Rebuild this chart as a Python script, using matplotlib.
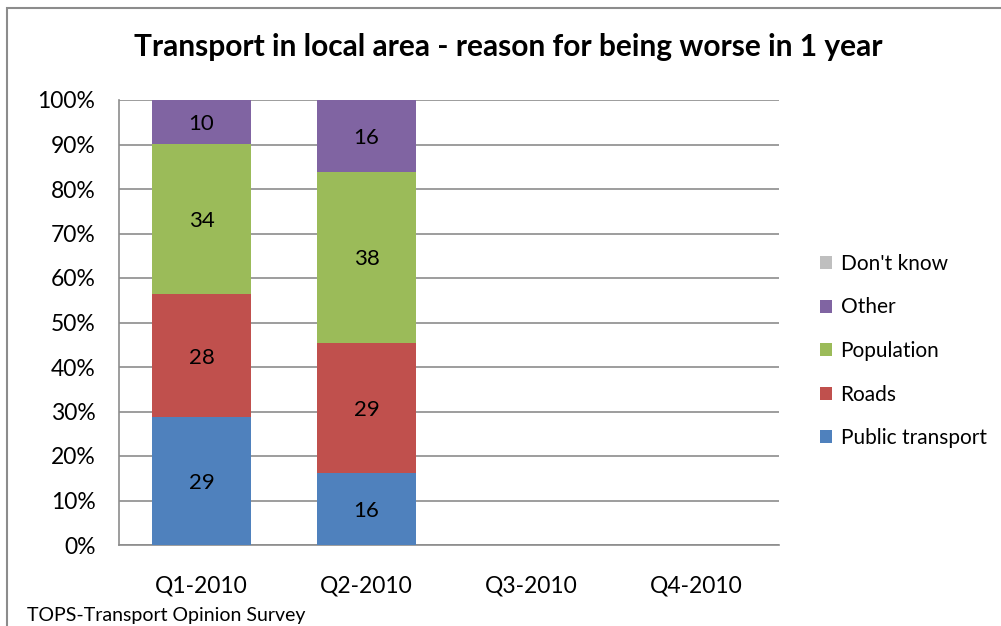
import numpy as np
import matplotlib.pyplot as plt
import matplotlib.patches as mpatches

plt.rcParams['font.family'] = ['Lato', 'DejaVu Sans']

quarters = ["Q1-2010", "Q2-2010", "Q3-2010", "Q4-2010"]
series = ["Public transport", "Roads", "Population", "Other", "Don't know"]
colors = ["#4f81bd", "#c0504d", "#9bbb59", "#8064a2", "#bfbfbf"]

# counts shown as labels (Q3/Q4 have no data yet)
public_transport = [29, 16, 0, 0]
roads = [28, 29, 0, 0]
population = [34, 38, 0, 0]
other = [10, 16, 0, 0]
dont_know = [0, 0, 0, 0]

data = np.array([public_transport, roads, population, other, dont_know], dtype=float)
totals = data.sum(axis=0)
pct = np.divide(data, totals, out=np.zeros_like(data), where=totals > 0) * 100

fig = plt.figure(figsize=(10.01, 6.26), dpi=100)
ax = fig.add_axes([119 / 1001, 1 - 545 / 626, 660 / 1001, 445 / 626])

# outer chart frame
fig.patches.append(mpatches.Rectangle((7 / 1001, -0.1), 1.2, (1 - 8 / 626) + 0.1,
                                      transform=fig.transFigure, fill=False,
                                      edgecolor="#8c8c8c", linewidth=1.5, zorder=0))

x = np.arange(len(quarters))
bottom = np.zeros(len(quarters))
for i, name in enumerate(series):
    ax.bar(x, pct[i], 0.606, bottom=bottom, color=colors[i], label=name, zorder=3)
    for j in range(len(quarters)):
        if data[i, j] > 0:
            ax.text(x[j], bottom[j] + pct[i, j] / 2, f"{int(data[i, j])}",
                    ha="center", va="center_baseline", fontsize=16, zorder=4)
    bottom += pct[i]

ax.set_xlim(-0.5, len(quarters) - 0.5)
ax.set_ylim(0, 100)
ax.set_yticks(np.arange(0, 101, 10))
ax.set_yticklabels([f"{v}%" for v in range(0, 101, 10)], fontsize=16.5)
ax.set_xticks(x)
ax.set_xticklabels(quarters, fontsize=16.5)
ax.tick_params(axis="y", length=0, pad=17)
ax.tick_params(axis="x", length=0, pad=22)
ax.yaxis.grid(True, color="#8c8c8c", linewidth=1.2, zorder=0)
for s in ["top", "right"]:
    ax.spines[s].set_visible(False)
for s in ["left", "bottom"]:
    ax.spines[s].set_color("#8c8c8c")
    ax.spines[s].set_linewidth(1.2)

handles, labels = ax.get_legend_handles_labels()
fig.legend(handles[::-1], labels[::-1], loc="center left",
           bbox_to_anchor=(801 / 1001, 1 - 351 / 626), frameon=False,
           fontsize=15, handlelength=0.6, handleheight=0.6,
           labelspacing=1.13, handletextpad=0.4)

fig.text(0.508, 1 - 47 / 626, "Transport in local area - reason for being worse in 1 year",
         ha="center", va="center", fontsize=21.5, fontweight="bold")
fig.text(27 / 1001, 1 - 616 / 626, "TOPS-Transport Opinion Survey",
         ha="left", va="center", fontsize=14)

fig.savefig("out.png", dpi=100)
